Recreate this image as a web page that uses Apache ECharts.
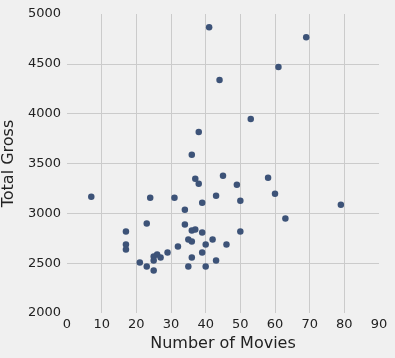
<!DOCTYPE html>
<html>
<head>
<meta charset="utf-8">
<script src="https://cdn.jsdelivr.net/npm/echarts@6/dist/echarts.min.js"></script>
<style>
html,body{margin:0;padding:0;background:#f0f0f0;}
#chart{width:395px;height:358px;}
</style>
</head>
<body>
<div id="chart"></div>
<script>
const numberOfMovies = [41, 69, 61, 44, 53, 38, 36, 37, 38, 45, 7, 24, 31, 43, 39, 34, 23, 34, 17, 36, 37, 39, 17, 17, 35, 36, 42, 40, 46, 32, 29, 39, 26, 25, 27, 25, 36, 43, 21, 23, 35, 40, 25, 49, 58, 50, 60, 79, 63, 50];
const totalGross = [4867, 4767, 4467, 4337, 3947, 3817, 3587, 3347, 3297, 3377, 3167, 3157, 3157, 3177, 3107, 3037, 2897, 2887, 2817, 2827, 2837, 2807, 2687, 2637, 2737, 2717, 2737, 2687, 2687, 2667, 2607, 2607, 2587, 2567, 2557, 2527, 2557, 2527, 2507, 2467, 2467, 2467, 2427, 3287, 3357, 3127, 3197, 3087, 2947, 2817];
const xTicks = {min: 0, max: 90, interval: 10};
const yTicks = {min: 2000, max: 5000, interval: 500};

const points = numberOfMovies.map((x, i) => [x, totalGross[i]]);
const chart = echarts.init(document.getElementById('chart'), null, {renderer: 'canvas'});
const font = 'DejaVu Sans';
chart.setOption({
  backgroundColor: '#f0f0f0',
  animation: false,
  grid: {left: 67, right: 16, top: 14, bottom: 45, containLabel: false, outerBoundsMode: 'none'},
  xAxis: {
    type: 'value', min: xTicks.min, max: xTicks.max, interval: xTicks.interval,
    name: 'Number of Movies', nameLocation: 'middle', nameGap: 20,
    nameTextStyle: {fontFamily: font, fontSize: 16, color: '#222'},
    axisLine: {show: false}, axisTick: {show: false},
    axisLabel: {fontFamily: font, fontSize: 13, color: '#222', margin: 5, formatter: v => String(v)},
    splitLine: {show: true, showMinLine: false, showMaxLine: false, lineStyle: {color: '#cbcbcb', width: 1}}
  },
  yAxis: {
    type: 'value', min: yTicks.min, max: yTicks.max, interval: yTicks.interval,
    name: 'Total Gross', nameLocation: 'middle', nameGap: 39,
    nameTextStyle: {fontFamily: font, fontSize: 16, color: '#222'},
    axisLine: {show: false}, axisTick: {show: false},
    axisLabel: {fontFamily: font, fontSize: 13, color: '#222', margin: 6, formatter: v => String(v)},
    splitLine: {show: true, showMinLine: false, showMaxLine: false, lineStyle: {color: '#cbcbcb', width: 1}}
  },
  series: [{
    type: 'scatter', data: points, symbolSize: 6.5,
    itemStyle: {color: '#3d5378', opacity: 1}
  }]
});
</script>
</body>
</html>
